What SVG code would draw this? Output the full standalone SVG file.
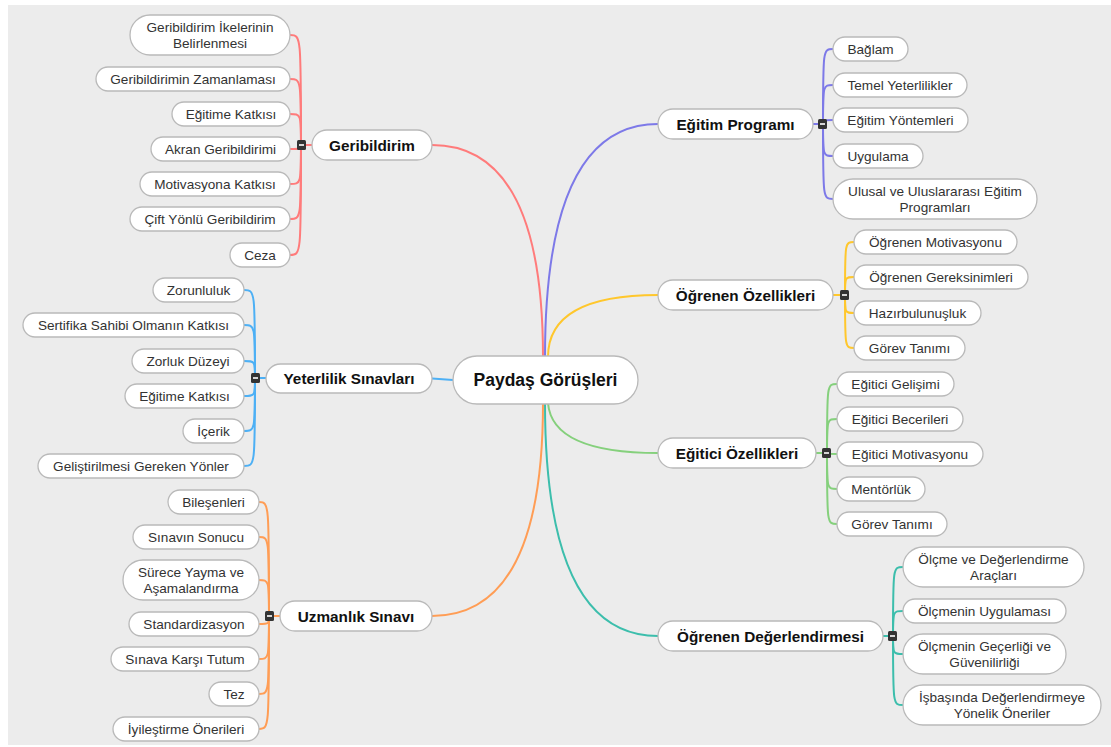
<svg xmlns="http://www.w3.org/2000/svg" width="1111" height="747" viewBox="0 0 1111 747">
<style>
.bg{fill:#ececec}
.n rect{fill:#fff;stroke:#b9b9b9;stroke-width:1.3}
.n text{font-family:"Liberation Sans",Arial,sans-serif;font-size:13.6px;fill:#333;text-anchor:middle}
.l1 text{font-size:15.3px;font-weight:bold;fill:#111}
.root text{font-size:17.5px;font-weight:bold;fill:#111}
.c path{fill:none;stroke-width:2}
.red{stroke:#ff7b7b}.pur{stroke:#7d79e8}.yel{stroke:#ffc72c}.grn{stroke:#85d07c}.tea{stroke:#3cbeac}.blu{stroke:#4db0f5}.ora{stroke:#ff9d55}
.m rect{fill:#333}
.m path{stroke:#fff;stroke-width:1.6}
</style>
<rect class="bg" x="8" y="5" width="1103" height="740"/>
<g id="connectors" class="c">
<!-- main -->
<path class="red" d="M432,145 Q543,145 543,357"/>
<path class="pur" d="M545,357 Q545,124 658,124"/>
<path class="yel" d="M548,357 Q548,295 658,295"/>
<path class="blu" d="M432,378.5 L453,380"/>
<path class="grn" d="M548,403 Q552,453 658,453"/>
<path class="ora" d="M543,403 Q543,616 432,616"/>
<path class="tea" d="M545,403 Q545,636 658,636"/>
<!-- Geribildirim -->
<path class="red" d="M306,145 L312,145"/>
<path class="red" d="M301,145 C301,35 301,35 290,35"/>
<path class="red" d="M301,145 C301,79 301,79 290,79"/>
<path class="red" d="M301,145 C301,114 301,114 290,114"/>
<path class="red" d="M301,145 C301,149 301,149 290,149"/>
<path class="red" d="M301,145 C301,184 301,184 290,184"/>
<path class="red" d="M301,145 C301,219 301,219 290,219"/>
<path class="red" d="M301,145 C301,255 301,255 290,255"/>
<!-- Yeterlilik -->
<path class="blu" d="M260,378 L266,378"/>
<path class="blu" d="M255,378 C255,290 255,290 244,290"/>
<path class="blu" d="M255,378 C255,325 255,325 244,325"/>
<path class="blu" d="M255,378 C255,361 255,361 244,361"/>
<path class="blu" d="M255,378 C255,396 255,396 244,396"/>
<path class="blu" d="M255,378 C255,431 255,431 244,431"/>
<path class="blu" d="M255,378 C255,466 255,466 244,466"/>
<!-- Uzmanlik -->
<path class="ora" d="M274,616 L280,616"/>
<path class="ora" d="M269,616 C269,502 269,502 259,502"/>
<path class="ora" d="M269,616 C269,537 269,537 259,537"/>
<path class="ora" d="M269,616 C269,580 269,580 259,580"/>
<path class="ora" d="M269,616 C269,624 269,624 259,624"/>
<path class="ora" d="M269,616 C269,659 269,659 259,659"/>
<path class="ora" d="M269,616 C269,694 269,694 259,694"/>
<path class="ora" d="M269,616 C269,729 269,729 259,729"/>
<!-- Egitim Programi -->
<path class="pur" d="M813,124 L818,124"/>
<path class="pur" d="M823,124 C823,49 823,49 833,49"/>
<path class="pur" d="M823,124 C823,85 823,85 833,85"/>
<path class="pur" d="M823,124 C823,120 823,120 833,120"/>
<path class="pur" d="M823,124 C823,156 823,156 833,156"/>
<path class="pur" d="M823,124 C823,199 823,199 833,199"/>
<!-- Ogrenen Ozellikleri -->
<path class="yel" d="M833,295 L840,295"/>
<path class="yel" d="M845,295 C845,242 845,242 854,242"/>
<path class="yel" d="M845,295 C845,277 845,277 854,277"/>
<path class="yel" d="M845,295 C845,313 845,313 854,313"/>
<path class="yel" d="M845,295 C845,348 845,348 854,348"/>
<!-- Egitici Ozellikleri -->
<path class="grn" d="M816,453 L822,453"/>
<path class="grn" d="M827,453 C827,384 827,384 837,384"/>
<path class="grn" d="M827,453 C827,419 827,419 837,419"/>
<path class="grn" d="M827,453 C827,454 827,454 837,454"/>
<path class="grn" d="M827,453 C827,489 827,489 837,489"/>
<path class="grn" d="M827,453 C827,524 827,524 837,524"/>
<!-- Ogrenen Degerlendirmesi -->
<path class="tea" d="M883,636 L888,636"/>
<path class="tea" d="M893,636 C893,567 893,567 903,567"/>
<path class="tea" d="M893,636 C893,611 893,611 903,611"/>
<path class="tea" d="M893,636 C893,654 893,654 903,654"/>
<path class="tea" d="M893,636 C893,705 893,705 903,705"/>
</g>

<g id="root" class="n root"><rect x="453" y="356" width="185" height="48" rx="24"/><text x="545.5" y="386">Paydaş Görüşleri</text></g>

<g id="geribildirim" class="n l1"><rect x="312" y="130" width="120" height="30" rx="15"/><text x="372" y="150.5">Geribildirim</text></g>
<g class="m"><rect x="297" y="140" width="9" height="10" rx="1.5"/><path d="M299,145 H304"/></g>
<g id="g1" class="n"><rect x="130" y="15" width="160" height="40" rx="20"/><text x="210" y="32">Geribildirim İkelerinin</text><text x="210" y="48">Belirlenmesi</text></g>
<g id="g2" class="n"><rect x="96" y="67" width="194" height="24" rx="12"/><text x="193" y="84">Geribildirimin Zamanlaması</text></g>
<g id="g3" class="n"><rect x="172" y="102" width="118" height="24" rx="12"/><text x="231" y="119">Eğitime Katkısı</text></g>
<g id="g4" class="n"><rect x="151" y="137" width="139" height="24" rx="12"/><text x="220.5" y="154">Akran Geribildirimi</text></g>
<g id="g5" class="n"><rect x="140" y="172" width="150" height="24" rx="12"/><text x="215" y="189">Motivasyona Katkısı</text></g>
<g id="g6" class="n"><rect x="130" y="207" width="160" height="24" rx="12"/><text x="210" y="224">Çift Yönlü Geribildirim</text></g>
<g id="g7" class="n"><rect x="230" y="243" width="60" height="24" rx="12"/><text x="260" y="260">Ceza</text></g>

<g id="yeterlilik" class="n l1"><rect x="266" y="364" width="166" height="29" rx="14.5"/><text x="349" y="384">Yeterlilik Sınavları</text></g>
<g class="m"><rect x="251" y="373" width="9" height="10" rx="1.5"/><path d="M253,378 H258"/></g>
<g id="y1" class="n"><rect x="153" y="278" width="91" height="24" rx="12"/><text x="198.5" y="295">Zorunluluk</text></g>
<g id="y2" class="n"><rect x="23" y="313" width="221" height="24" rx="12"/><text x="133.5" y="330">Sertifika Sahibi Olmanın Katkısı</text></g>
<g id="y3" class="n"><rect x="132" y="349" width="112" height="24" rx="12"/><text x="188" y="366">Zorluk Düzeyi</text></g>
<g id="y4" class="n"><rect x="125" y="384" width="119" height="24" rx="12"/><text x="184.5" y="401">Eğitime Katkısı</text></g>
<g id="y5" class="n"><rect x="183" y="419" width="61" height="24" rx="12"/><text x="213.5" y="436">İçerik</text></g>
<g id="y6" class="n"><rect x="38" y="454" width="206" height="24" rx="12"/><text x="141" y="471">Geliştirilmesi Gereken Yönler</text></g>

<g id="uzmanlik" class="n l1"><rect x="280" y="601" width="152" height="30" rx="15"/><text x="356" y="621.5">Uzmanlık Sınavı</text></g>
<g class="m"><rect x="265" y="611" width="9" height="10" rx="1.5"/><path d="M267,616 H272"/></g>
<g id="u1" class="n"><rect x="168" y="490" width="91" height="24" rx="12"/><text x="213.5" y="507">Bileşenleri</text></g>
<g id="u2" class="n"><rect x="133" y="525" width="126" height="24" rx="12"/><text x="196" y="542">Sınavın Sonucu</text></g>
<g id="u3" class="n"><rect x="123" y="560" width="136" height="40" rx="20"/><text x="191" y="577">Sürece Yayma ve</text><text x="191" y="593">Aşamalandırma</text></g>
<g id="u4" class="n"><rect x="129" y="612" width="130" height="24" rx="12"/><text x="194" y="629">Standardizasyon</text></g>
<g id="u5" class="n"><rect x="111" y="647" width="148" height="24" rx="12"/><text x="185" y="664">Sınava Karşı Tutum</text></g>
<g id="u6" class="n"><rect x="209" y="682" width="50" height="24" rx="12"/><text x="234" y="699">Tez</text></g>
<g id="u7" class="n"><rect x="113" y="717" width="146" height="24" rx="12"/><text x="186" y="734">İyileştirme Önerileri</text></g>

<g id="egitim" class="n l1"><rect x="658" y="109" width="155" height="30" rx="15"/><text x="735.5" y="129.5">Eğitim Programı</text></g>
<g class="m"><rect x="818" y="119" width="9" height="10" rx="1.5"/><path d="M820,124 H825"/></g>
<g id="e1" class="n"><rect x="833" y="37" width="75" height="24" rx="12"/><text x="870.5" y="54">Bağlam</text></g>
<g id="e2" class="n"><rect x="833" y="73" width="134" height="24" rx="12"/><text x="900" y="90">Temel Yeterlilikler</text></g>
<g id="e3" class="n"><rect x="833" y="108" width="135" height="24" rx="12"/><text x="900.5" y="125">Eğitim Yöntemleri</text></g>
<g id="e4" class="n"><rect x="833" y="144" width="90" height="24" rx="12"/><text x="878" y="161">Uygulama</text></g>
<g id="e5" class="n"><rect x="833" y="179" width="204" height="40" rx="20"/><text x="935" y="196">Ulusal ve Uluslararası Eğitim</text><text x="935" y="212">Programları</text></g>

<g id="ogrenen" class="n l1"><rect x="658" y="280" width="175" height="30" rx="15"/><text x="745.5" y="300.5">Öğrenen Özellikleri</text></g>
<g class="m"><rect x="840" y="290" width="9" height="10" rx="1.5"/><path d="M842,295 H847"/></g>
<g id="o1" class="n"><rect x="854" y="230" width="163" height="24" rx="12"/><text x="935.5" y="247">Öğrenen Motivasyonu</text></g>
<g id="o2" class="n"><rect x="854" y="265" width="174" height="24" rx="12"/><text x="941" y="282">Öğrenen Gereksinimleri</text></g>
<g id="o3" class="n"><rect x="854" y="301" width="127" height="24" rx="12"/><text x="917.5" y="318">Hazırbulunuşluk</text></g>
<g id="o4" class="n"><rect x="854" y="336" width="111" height="24" rx="12"/><text x="909.5" y="353">Görev Tanımı</text></g>

<g id="egitici" class="n l1"><rect x="658" y="438" width="158" height="30" rx="15"/><text x="737" y="458.5">Eğitici Özellikleri</text></g>
<g class="m"><rect x="822" y="448" width="9" height="10" rx="1.5"/><path d="M824,453 H829"/></g>
<g id="t1" class="n"><rect x="837" y="372" width="117" height="24" rx="12"/><text x="895.5" y="389">Eğitici Gelişimi</text></g>
<g id="t2" class="n"><rect x="837" y="407" width="126" height="24" rx="12"/><text x="900" y="424">Eğitici Becerileri</text></g>
<g id="t3" class="n"><rect x="837" y="442" width="146" height="24" rx="12"/><text x="910" y="459">Eğitici Motivasyonu</text></g>
<g id="t4" class="n"><rect x="837" y="477" width="88" height="24" rx="12"/><text x="881" y="494">Mentörlük</text></g>
<g id="t5" class="n"><rect x="837" y="512" width="110" height="24" rx="12"/><text x="892" y="529">Görev Tanımı</text></g>

<g id="degerlendirme" class="n l1"><rect x="658" y="621" width="225" height="30" rx="15"/><text x="770.5" y="641.5">Öğrenen Değerlendirmesi</text></g>
<g class="m"><rect x="888" y="631" width="9" height="10" rx="1.5"/><path d="M890,636 H895"/></g>
<g id="d1" class="n"><rect x="903" y="547" width="181" height="40" rx="20"/><text x="993.5" y="564">Ölçme ve Değerlendirme</text><text x="993.5" y="580">Araçları</text></g>
<g id="d2" class="n"><rect x="903" y="599" width="163" height="24" rx="12"/><text x="984.5" y="616">Ölçmenin Uygulaması</text></g>
<g id="d3" class="n"><rect x="903" y="634" width="163" height="40" rx="20"/><text x="984.5" y="651">Ölçmenin Geçerliği ve</text><text x="984.5" y="667">Güvenilirliği</text></g>
<g id="d4" class="n"><rect x="903" y="685" width="198" height="40" rx="20"/><text x="1002" y="702">İşbaşında Değerlendirmeye</text><text x="1002" y="718">Yönelik Öneriler</text></g>
</svg>
